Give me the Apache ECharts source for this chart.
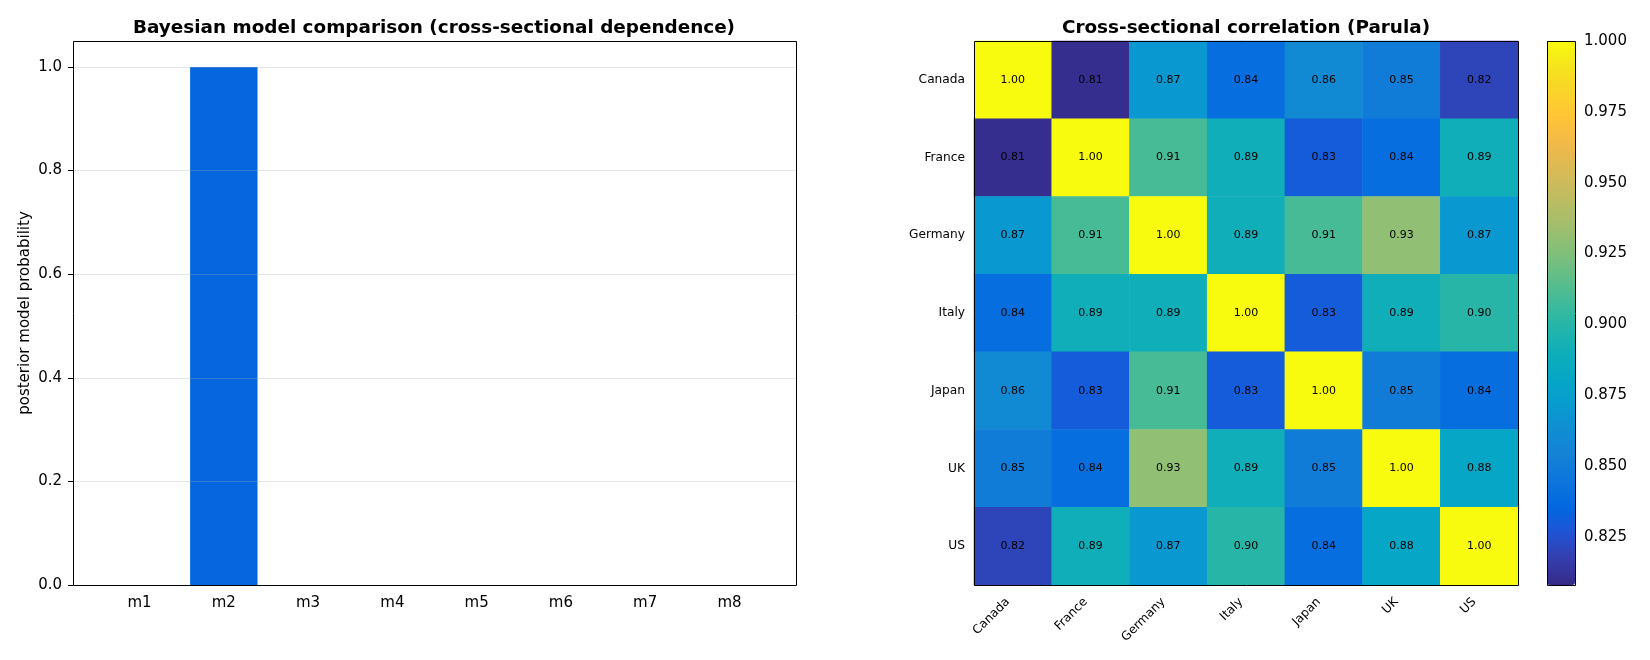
<!DOCTYPE html>
<html>
<head>
<meta charset="utf-8">
<script src="https://cdn.jsdelivr.net/npm/echarts@6/dist/echarts.min.js"></script>
<style>
  html, body { margin: 0; padding: 0; background: #fff; }
  #main { width: 1650px; height: 660px; }
</style>
</head>
<body>
<div id="main"></div>
<script>
// model comparison
const models = ['m1', 'm2', 'm3', 'm4', 'm5', 'm6', 'm7', 'm8'];
const probs = [0, 1, 0, 0, 0, 0, 0, 0];
const probTicks = [0, 0.2, 0.4, 0.6, 0.8, 1.0];

// correlation matrix
const countries = ['Canada', 'France', 'Germany', 'Italy', 'Japan', 'UK', 'US'];
const corr = [
  [1.00, 0.81, 0.87, 0.84, 0.86, 0.85, 0.82],
  [0.81, 1.00, 0.91, 0.89, 0.83, 0.84, 0.89],
  [0.87, 0.91, 1.00, 0.89, 0.91, 0.93, 0.87],
  [0.84, 0.89, 0.89, 1.00, 0.83, 0.89, 0.90],
  [0.86, 0.83, 0.91, 0.83, 1.00, 0.85, 0.84],
  [0.85, 0.84, 0.93, 0.89, 0.85, 1.00, 0.88],
  [0.82, 0.89, 0.87, 0.90, 0.84, 0.88, 1.00]
];
const cbTicks = [0.825, 0.85, 0.875, 0.9, 0.925, 0.95, 0.975, 1.0];
const cbMin = 0.808, cbMax = 1.0;

// parula, every 3rd entry of the 64 table
const parula = [
  '#352a87', '#353dad', '#2053d4', '#0268e1', '#0d75dc', '#1481d6',
  '#108ed2', '#079ccf', '#06a7c6', '#0faeb9', '#25b5a9', '#42bb98',
  '#65be86', '#87bf77', '#a5be6b', '#c0bc60', '#d9ba56', '#f1b94a',
  '#ffc337', '#fad32a', '#f5e41d', '#f9fb0e'
];

const font = 'DejaVu Sans';
const chart = echarts.init(document.getElementById('main'));

const heatData = [];
corr.forEach((row, i) => {
  row.forEach((v, j) => heatData.push([j, i, v]));
});

// frames: [left, top, width, height]
const frames = [[73, 41, 723, 544], [974, 41, 544, 544], [1547, 41, 28, 544]];

const option = {
  backgroundColor: '#fff',
  animation: false,
  title: [
    {
      text: 'Bayesian model comparison (cross-sectional dependence)',
      left: 429, top: 14, textAlign: 'center',
      textStyle: { fontFamily: font, fontWeight: 'bold', fontSize: 18.4, color: '#000' }
    },
    {
      text: 'Cross-sectional correlation (Parula)',
      left: 1241, top: 14, textAlign: 'center',
      textStyle: { fontFamily: font, fontWeight: 'bold', fontSize: 18.4, color: '#000' }
    }
  ],
  graphic: frames.map(f => ({
    type: 'rect',
    z: 100,
    shape: { x: f[0] + 0.5, y: f[1] + 0.5, width: f[2], height: f[3] },
    style: { fill: 'none', stroke: '#000', lineWidth: 1 }
  })),
  grid: [
    // frame of the bar plot (x from -0.79 to 7.79)
    { left: 73, top: 41, width: 723, height: 544 },
    // bar band area
    { left: 97.4, top: 41, width: 674.2, height: 544 },
    // heatmap
    { left: 974, top: 41, width: 544, height: 544 },
    // colorbar
    { left: 1547, top: 41, width: 28, height: 544 }
  ],
  xAxis: [
    { gridIndex: 0, type: 'value', min: 0, max: 1, show: false },
    {
      gridIndex: 1, type: 'category', data: models,
      axisLine: { show: false },
      axisTick: { alignWithLabel: true, length: 5, lineStyle: { color: '#000', width: 1 } },
      axisLabel: { fontFamily: font, fontSize: 15, color: '#000', margin: 11 }
    },
    {
      gridIndex: 2, type: 'category', data: countries,
      axisLine: { show: false },
      axisTick: { alignWithLabel: true, length: 5, lineStyle: { color: '#000', width: 1 } },
      axisLabel: {
        fontFamily: font, fontSize: 12.2, color: '#000', rotate: 45, margin: 10,
        interval: 0, padding: [0, 7, 0, 0]
      },
      splitArea: { show: false }
    },
    { gridIndex: 3, type: 'value', show: false }
  ],
  yAxis: [
    {
      gridIndex: 0, type: 'value', min: 0, max: 1.05, z: 3,
      name: 'posterior model probability', nameLocation: 'middle', nameGap: 40,
      nameTextStyle: { fontFamily: font, fontSize: 15, color: '#000' },
      axisLine: { show: false },
      axisTick: { show: true, length: 5, customValues: probTicks, lineStyle: { color: '#000', width: 1 } },
      axisLabel: {
        fontFamily: font, fontSize: 15, color: '#000', margin: 11,
        customValues: probTicks, formatter: v => v.toFixed(1)
      },
      splitLine: { show: true, lineStyle: { color: 'rgba(170,170,170,0.3)', width: 1 } }
    },
    { gridIndex: 1, type: 'value', min: 0, max: 1.05, show: false },
    {
      gridIndex: 2, type: 'category', data: countries, inverse: true,
      axisLine: { show: false },
      axisTick: { alignWithLabel: true, length: 5, lineStyle: { color: '#000', width: 1 } },
      axisLabel: { fontFamily: font, fontSize: 12.2, color: '#000', margin: 9, interval: 0 },
      splitArea: { show: false }
    },
    {
      gridIndex: 3, type: 'value', position: 'right', min: cbMin, max: cbMax,
      axisLine: { show: false },
      axisTick: { show: true, length: 5, customValues: cbTicks, lineStyle: { color: '#000', width: 1 } },
      axisLabel: {
        fontFamily: font, fontSize: 15, color: '#000', margin: 9,
        customValues: cbTicks, formatter: v => v.toFixed(3)
      },
      splitLine: { show: false }
    }
  ],
  visualMap: {
    type: 'continuous',
    seriesIndex: 1,
    min: cbMin, max: cbMax,
    calculable: false,
    hoverLink: false,
    left: 1547, top: 41,
    padding: 0,
    itemWidth: 28, itemHeight: 544,
    text: null,
    showLabel: false,
    inRange: { color: parula }
  },
  series: [
    {
      type: 'bar',
      xAxisIndex: 1, yAxisIndex: 1,
      data: probs,
      barWidth: '80%',
      itemStyle: { color: '#0566e0' }
    },
    {
      type: 'heatmap',
      xAxisIndex: 2, yAxisIndex: 2,
      data: heatData,
      label: {
        show: true, fontFamily: font, fontSize: 11, color: '#000',
        formatter: p => p.value[2].toFixed(2)
      },
      itemStyle: { borderWidth: 0 }
    }
  ]
};

chart.setOption(option);
</script>
</body>
</html>
